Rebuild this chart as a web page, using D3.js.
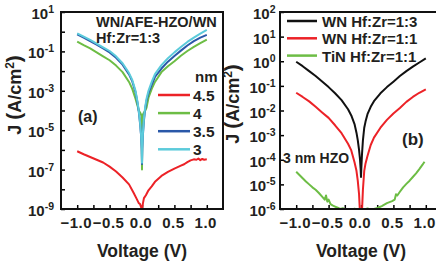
<!DOCTYPE html>
<meta charset="utf-8" />
<script src="https://d3js.org/d3.v7.min.js"></script>
<style>
  body { margin: 0; background: #fff; }
  svg text { font-family: "Liberation Sans", Arial, sans-serif; font-weight: bold; fill: #231f20; }
</style>
<body>
<div id="chart"></div>
<script>
// ---- data (log10 of J in A/cm2) ----
// panel (a): WN/AFE-HZO/WN, Hf:Zr=1:3, thickness series
var vGrid = [-1, -0.9, -0.8, -0.7, -0.6, -0.5, -0.4, -0.3, -0.2, -0.15, -0.1, -0.07, -0.05, -0.03, -0.015, -0.005, 0,
             0.005, 0.015, 0.03, 0.05, 0.07, 0.1, 0.15, 0.2, 0.3, 0.4, 0.5, 0.6, 0.7, 0.8, 0.9, 1];
var logJ_3nm = [-0.08, -0.25, -0.42, -0.6, -0.79, -0.98, -1.25, -1.6, -2.1, -2.45, -3.0, -3.55, -4.0, -4.6, -5.2, -5.9, -6.65,
                -5.9, -5.1, -4.4, -3.8, -3.4, -3.0, -2.55, -2.15, -1.7, -1.35, -1.05, -0.78, -0.52, -0.3, -0.1, 0.09];
var logJ_3p5nm = [-0.13, -0.3, -0.48, -0.66, -0.85, -1.05, -1.32, -1.67, -2.17, -2.52, -3.07, -3.6, -4.05, -4.65, -5.25, -5.95, -6.72,
                  -5.95, -5.2, -4.5, -3.9, -3.5, -3.12, -2.7, -2.3, -1.87, -1.52, -1.23, -0.96, -0.7, -0.48, -0.3, -0.16];
var logJ_4nm = [-0.5, -0.68, -0.85, -1.05, -1.25, -1.45, -1.72, -2.05, -2.55, -2.9, -3.4, -3.75, -4.0, -4.1, -4.2, -4.3, -7.0,
                -4.3, -4.2, -4.1, -4.0, -3.85, -3.35, -2.9, -2.55, -2.05, -1.75, -1.5, -1.22, -0.98, -0.77, -0.58, -0.4];
var vRed45 = [-1, -0.9, -0.8, -0.7, -0.6, -0.5, -0.4, -0.3, -0.2, -0.13, -0.08, -0.05, -0.03, -0.015, 0, 0.015, 0.03, 0.06,
              0.1, 0.15, 0.2, 0.3, 0.4, 0.5, 0.6, 0.65, 0.7, 0.75, 0.8, 0.84, 0.87, 0.9, 0.93, 0.96, 1];
var logJ_4p5nm = [-6.07, -6.22, -6.36, -6.5, -6.64, -6.85, -7.1, -7.4, -7.75, -8.18, -8.5, -8.7, -8.75, -8.9, -9.05, -8.7, -8.45, -8.3,
                  -8.05, -7.85, -7.62, -7.32, -7.12, -6.95, -6.8, -6.73, -6.62, -6.53, -6.48, -6.5, -6.44, -6.52, -6.46, -6.5, -6.48];
var thicknessLabels = ["4.5", "4", "3.5", "3"];

// panel (b): electrode / composition comparison, 3 nm HZO
var logJ_WN13 = [-0.02, -0.2, -0.4, -0.6, -0.82, -1.05, -1.3, -1.58, -1.95, -2.2, -2.55, -2.9, -3.2, -3.6, -4.0, -4.4, -4.7,
                 -4.35, -3.8, -3.2, -2.7, -2.45, -2.15, -1.85, -1.62, -1.3, -1.05, -0.83, -0.6, -0.4, -0.22, -0.05, 0.12];
var logJ_WN11 = [-1.28, -1.45, -1.63, -1.85, -2.08, -2.3, -2.6, -2.92, -3.35, -3.62, -4.1, -4.45, -4.85, -5.4, -6.2, -7, -7.5,
                 -7, -6.1, -5.2, -4.45, -4.15, -3.85, -3.4, -3.1, -2.7, -2.38, -2.12, -1.9, -1.65, -1.45, -1.28, -1.14];
var vTiN = [-1, -0.95, -0.9, -0.85, -0.8, -0.75, -0.7, -0.65, -0.6, -0.56, -0.54, -0.52, -0.5, -0.47, -0.44, -0.4, -0.36,
            -0.32, -0.28, -0.24, -0.2, -0.15, -0.1, -0.05, 0, 0.05, 0.1, 0.15, 0.2, 0.24, 0.28, 0.32, 0.36, 0.4, 0.44, 0.48,
            0.52, 0.54, 0.56, 0.6, 0.65, 0.7, 0.75, 0.8, 0.85, 0.9, 0.95, 0.98];
var logJ_TiN11 = [-4.49, -4.62, -4.75, -4.88, -5.0, -5.12, -5.22, -5.35, -5.5, -5.62, -5.45, -5.7, -5.62, -5.8, -5.85, -5.9, -5.95,
                  -6.0, -5.97, -6.02, -6.0, -6.03, -5.99, -6.02, -6.0, -6.03, -5.98, -6.02, -6.0, -5.97, -5.93, -5.88, -5.82, -5.76, -5.72, -5.68,
                  -5.62, -5.4, -5.45, -5.3, -5.12, -4.98, -4.85, -4.7, -4.55, -4.38, -4.2, -4.08];
var seriesLabelsB = ["WN Hf:Zr=1:3", "WN Hf:Zr=1:1", "TiN Hf:Zr=1:1"];

var xTicks = [-1, -0.75, -0.5, -0.25, 0, 0.25, 0.5, 0.75, 1];
var xTickLabels = [-1, -0.5, 0, 0.5, 1];

var cRed = "#ec2227", cGreen = "#6dbd45", cBlue = "#2a58a8", cCyan = "#5ccbdb", cBlack = "#111111";

var svg = d3.select("#chart").append("svg").attr("width", 436).attr("height", 263);

function panel(id, x0, x1, y0, y1, expMin, expMax, labelEvery, labelGap) {
  var x = d3.scaleLinear().domain([-1.25, 1.25]).range([x0, x1]);
  var y = d3.scaleLog().domain([Math.pow(10, expMin), Math.pow(10, expMax)]).range([y1, y0]);
  var g = svg.append("g");

  svg.append("clipPath").attr("id", id).append("rect")
    .attr("x", x0).attr("y", y0).attr("width", x1 - x0).attr("height", y1 - y0);

  // ticks (inward)
  var decades = d3.range(expMin, expMax + 1).map(function(e) { return Math.pow(10, e); });
  g.append("g").attr("transform", "translate(" + x0 + ",0)")
    .call(d3.axisLeft(y).tickValues(decades).tickSize(-4).tickFormat(""))
    .call(function(a) { a.select(".domain").remove(); a.selectAll("line").attr("stroke-width", 1.5); });
  g.append("g").attr("transform", "translate(0," + y1 + ")")
    .call(d3.axisBottom(x).tickValues(xTicks).tickSize(-4).tickFormat(""))
    .call(function(a) { a.select(".domain").remove(); a.selectAll("line").attr("stroke-width", 1.5); });

  // y labels 10^n
  d3.range(expMin, expMax + 1).forEach(function(e) {
    if ((e - expMin) % labelEvery !== 0) return;
    var t = g.append("text").attr("x", x0 - labelGap).attr("y", y(Math.pow(10, e)) + 7)
      .attr("text-anchor", "end").style("font-size", "15px");
    t.append("tspan").text("10");
    t.append("tspan").attr("dy", -6).style("font-size", "10.5px").text(e);
  });

  // x labels
  xTickLabels.forEach(function(v) {
    g.append("text").attr("x", x(v) - 1).attr("y", 228).attr("text-anchor", "middle")
      .style("font-size", "15px").style("letter-spacing", "0.5px").text(d3.format(".1f")(v));
  });

  g.append("text").attr("x", x(0)).attr("y", 257).attr("text-anchor", "middle")
    .style("font-size", "17.5px").text("Voltage (V)");

  return { x: x, y: y, g: g };
}

function yTitle(cx, cy) {
  var t = svg.append("text").attr("transform", "translate(" + cx + "," + cy + ") rotate(-90)")
    .attr("text-anchor", "middle").style("font-size", "18px");
  t.append("tspan").text("J ");
  t.append("tspan").style("font-size", "21px").text("(");
  t.append("tspan").text("A/cm");
  t.append("tspan").attr("dy", -7).style("font-size", "12px").text("2");
  t.append("tspan").attr("dy", 7).style("font-size", "21px").text(")");
}

function drawLine(p, clipId, vs, ls, color) {
  var line = d3.line()
    .x(function(d, i) { return p.x(vs[i]); })
    .y(function(d) { return p.y(Math.pow(10, d)); });
  svg.append("path").datum(ls).attr("clip-path", "url(#" + clipId + ")")
    .attr("d", line).attr("fill", "none").attr("stroke", color)
    .attr("stroke-width", 2).attr("stroke-linejoin", "round");
}

// ---- panel (a) ----
var pa = panel("clipA", 61, 223, 12, 209, -9, 1, 2, 7);
drawLine(pa, "clipA", vRed45, logJ_4p5nm, cRed);
drawLine(pa, "clipA", vGrid, logJ_4nm, cGreen);
drawLine(pa, "clipA", vGrid, logJ_3p5nm, cBlue);
drawLine(pa, "clipA", vGrid, logJ_3nm, cCyan);
svg.append("rect").attr("x", 61).attr("y", 12).attr("width", 162).attr("height", 197)
  .attr("fill", "none").attr("stroke", "#111").attr("stroke-width", 2);
yTitle(21, 95);

svg.append("text").attr("x", 96).attr("y", 27).style("font-size", "14.5px").text("WN/AFE-HZO/WN");
svg.append("text").attr("x", 96).attr("y", 42.5).style("font-size", "14.5px").text("Hf:Zr=1:3");
svg.append("text").attr("x", 195).attr("y", 82).style("font-size", "15px").text("nm");
svg.append("text").attr("x", 78).attr("y", 122).style("font-size", "16px").text("(a)");
var colorsA = [cRed, cGreen, cBlue, cCyan];
thicknessLabels.forEach(function(lab, i) {
  var yy = 95 + i * 18.1;
  svg.append("line").attr("x1", 158).attr("x2", 190).attr("y1", yy).attr("y2", yy)
    .attr("stroke", colorsA[i]).attr("stroke-width", 2.5);
  svg.append("text").attr("x", 193).attr("y", yy + 6).style("font-size", "15.5px").text(lab);
});

// ---- panel (b) ----
var pb = panel("clipB", 280, 442, 12, 209, -6, 2, 1, 4.5);
drawLine(pb, "clipB", vTiN, logJ_TiN11, cGreen);
drawLine(pb, "clipB", vGrid, logJ_WN11, cRed);
drawLine(pb, "clipB", vGrid, logJ_WN13, cBlack);
svg.append("rect").attr("x", 280).attr("y", 12).attr("width", 162).attr("height", 197)
  .attr("fill", "none").attr("stroke", "#111").attr("stroke-width", 2);
yTitle(239, 104);

var colorsB = [cBlack, cRed, cGreen];
seriesLabelsB.forEach(function(lab, i) {
  var yy = 21 + i * 17.3;
  svg.append("line").attr("x1", 287).attr("x2", 317).attr("y1", yy).attr("y2", yy)
    .attr("stroke", colorsB[i]).attr("stroke-width", 2.5);
  svg.append("text").attr("x", 322).attr("y", yy + 6).style("font-size", "15px").text(lab);
});
svg.append("text").attr("x", 402).attr("y", 145).style("font-size", "17px").text("(b)");
svg.append("text").attr("x", 283).attr("y", 163).style("font-size", "14px").text("3 nm HZO");
</script>
</body>
